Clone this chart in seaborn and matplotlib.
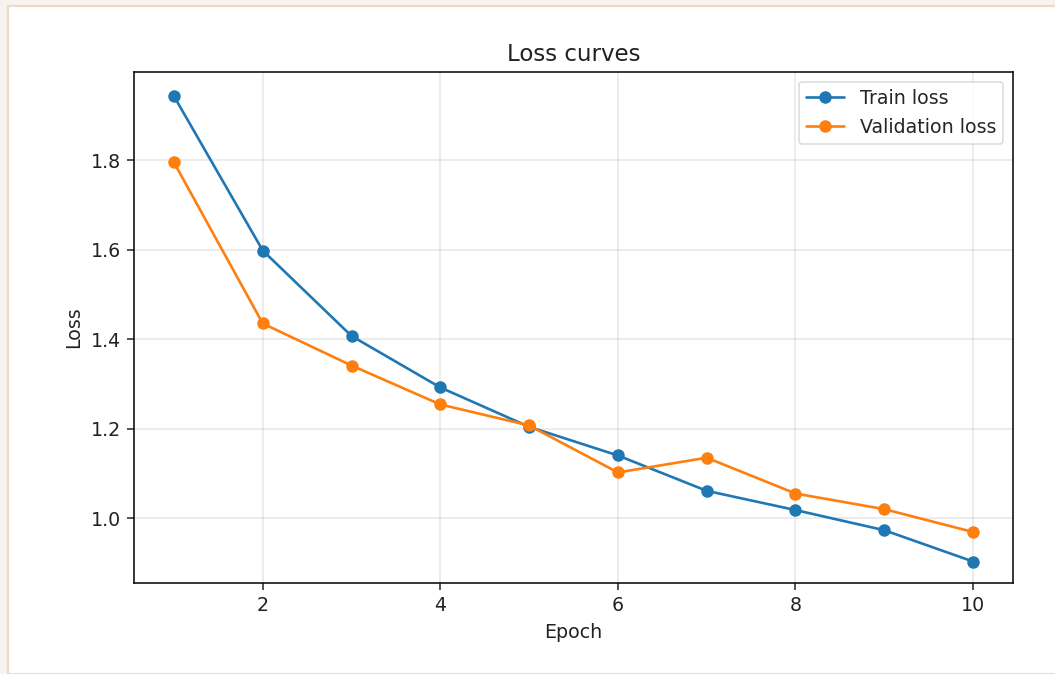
import matplotlib
matplotlib.use("Agg")
import matplotlib.pyplot as plt
import seaborn as sns
import pandas as pd
from matplotlib.patches import Rectangle

epochs = [1, 2, 3, 4, 5, 6, 7, 8, 9, 10]
train_loss = [1.943, 1.598, 1.407, 1.292, 1.204, 1.140, 1.061, 1.018, 0.973, 0.903]
val_loss = [1.795, 1.435, 1.341, 1.254, 1.207, 1.102, 1.135, 1.055, 1.020, 0.969]
series_names = ["Train loss", "Validation loss"]

df = pd.DataFrame({
    "Epoch": epochs * 2,
    "Loss": train_loss + val_loss,
    "Series": [series_names[0]] * len(epochs) + [series_names[1]] * len(epochs),
})

sns.set_style("ticks")
plt.rcParams['font.family'] = ['DejaVu Sans']
k = 1.37  # scale relative to matplotlib defaults

W, H = 1055, 674
fig = plt.figure(figsize=(W / 100, H / 100), dpi=100)
fig.patch.set_facecolor("#f7f3ee")
fig.patches.append(Rectangle((8 / W, 0), 1.2, (H - 6) / H, transform=fig.transFigure,
                             facecolor="white", edgecolor="#efd9c3", linewidth=1.5, zorder=-10))

ax = fig.add_axes([134 / W, 1 - 583 / H, (1013 - 134) / W, (583 - 72) / H])
ax.set_zorder(5)
sns.lineplot(data=df, x="Epoch", y="Loss", hue="Series", marker="o", markersize=9,
             markeredgewidth=0, palette=["#1f77b4", "#ff7f0e"], linewidth=1.9, ax=ax)

ax.set_xticks([2, 4, 6, 8, 10])
ax.set_yticks([1.0, 1.2, 1.4, 1.6, 1.8])
ax.set_xlim(0.55, 10.45)
ax.set_ylim(0.855, 1.997)
ax.grid(True, color="#b0b0b0", alpha=0.3, linewidth=0.8 * k)
for s in ax.spines.values():
    s.set_visible(True)
    s.set_color("black")
    s.set_linewidth(0.8 * k)
ax.tick_params(labelsize=10 * k, length=3.5 * k, width=0.8 * k, pad=3.5 * k, colors="#222222")
ax.set_xlabel("Epoch", fontsize=10 * k, color="#222222", labelpad=4 * k)
ax.set_ylabel("Loss", fontsize=10 * k, color="#222222", labelpad=4 * k)
ax.set_title("Loss curves", fontsize=12 * k, color="#222222", pad=6 * k)
leg = ax.legend(title=None, fontsize=10 * k, loc="upper right", frameon=True,
                markerscale=1.0)
leg.get_frame().set_edgecolor("#d0d0d0")
leg.get_frame().set_linewidth(0.8 * k)

fig.savefig("out.png", dpi=100, facecolor=fig.get_facecolor())
